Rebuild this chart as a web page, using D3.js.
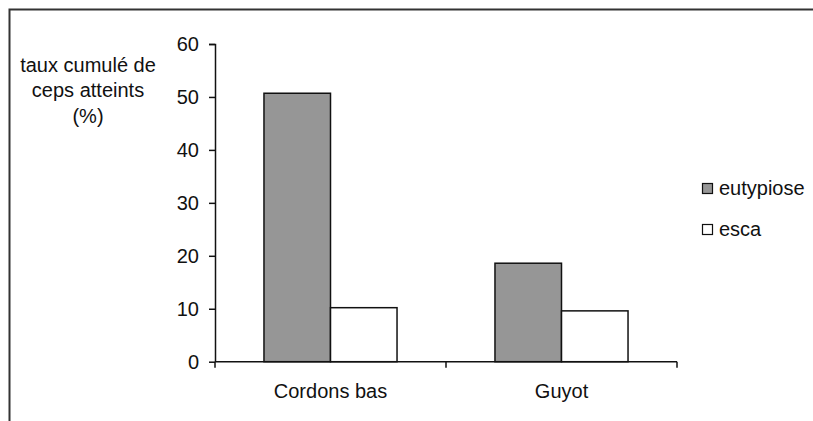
<!DOCTYPE html>
<html>
<head>
<meta charset="utf-8">
<script src="https://cdn.jsdelivr.net/npm/d3@7"></script>
<style>
  html, body { margin: 0; padding: 0; background: #fff; }
  svg { display: block; }
  text { font-family: "Liberation Sans", Arial, sans-serif; fill: #111; }
</style>
</head>
<body>
<svg id="chart" width="813" height="421"></svg>
<script>
const categories = ["Cordons bas", "Guyot"];
const seriesNames = ["eutypiose", "esca"];
const eutypiose = [50.7, 18.6];
const esca = [10.2, 9.6];
const yTicks = [0, 10, 20, 30, 40, 50, 60];
const yTitle = ["taux cumulé de", "ceps atteints", "(%)"];
const seriesColors = ["#969696", "#ffffff"];

const seriesValues = [eutypiose, esca];
const data = categories.map((c, i) => ({
  cat: c,
  values: seriesNames.map((s, j) => ({ key: s, value: seriesValues[j][i] }))
}));

const svg = d3.select("#chart");
const margin = { left: 215, top: 44 };
const plotW = 462, plotH = 317.7;

// outer border
svg.append("rect")
  .attr("x", 9.5).attr("y", 9.5)
  .attr("width", 815).attr("height", 430)
  .attr("fill", "none").attr("stroke", "#333").attr("stroke-width", 2);

const g = svg.append("g").attr("transform", `translate(${margin.left},${margin.top})`);

const y = d3.scaleLinear().domain([0, 60]).range([plotH, 0]);
const x0 = d3.scaleBand().domain(categories).range([0, plotW]).padding(0);
const bw = x0.bandwidth();
const x1 = d3.scaleBand().domain(seriesNames).range([bw * 0.212, bw * 0.788]).padding(0);
const color = d3.scaleOrdinal().domain(seriesNames).range(seriesColors);

// bars
const groups = g.selectAll("g.cat").data(data).join("g")
  .attr("class", "cat")
  .attr("transform", d => `translate(${x0(d.cat)},0)`);
groups.selectAll("rect").data(d => d.values).join("rect")
  .attr("x", d => x1(d.key))
  .attr("y", d => y(d.value))
  .attr("width", x1.bandwidth())
  .attr("height", d => y(0) - y(d.value))
  .attr("fill", d => color(d.key))
  .attr("stroke", "#111")
  .attr("stroke-width", 1.5);

// y axis
const yAxis = g.append("g")
  .call(d3.axisLeft(y).tickValues(yTicks).tickSize(6).tickPadding(10).tickFormat(d3.format("d")));
yAxis.select(".domain").attr("stroke", "#111").attr("stroke-width", 1.5).attr("d", `M-6,0.5H0.5V${plotH}`);
yAxis.selectAll(".tick line").attr("stroke", "#111").attr("stroke-width", 1.5);
yAxis.selectAll(".tick text").attr("font-size", 20).attr("fill", "#111")
  .attr("font-family", '"Liberation Sans", Arial, sans-serif');

// x axis: labels at centers, ticks at boundaries
const xAxis = g.append("g").attr("transform", `translate(0,${plotH})`)
  .call(d3.axisBottom(x0).tickSize(0).tickPadding(22));
xAxis.select(".domain").attr("stroke", "#111").attr("stroke-width", 1.5).attr("d", `M0,0H${plotW}`);
xAxis.selectAll(".tick text").attr("font-size", 20).attr("fill", "#111")
  .attr("font-family", '"Liberation Sans", Arial, sans-serif');
const bounds = categories.map(c => x0(c)).concat([x0(categories[categories.length - 1]) + bw]);
xAxis.selectAll("line.bt").data(bounds).join("line")
  .attr("class", "bt")
  .attr("x1", d => d).attr("x2", d => d)
  .attr("y1", 0).attr("y2", 6)
  .attr("stroke", "#111").attr("stroke-width", 1.5);

// y title
const titleY = [72, 97, 123];
svg.append("g").selectAll("text").data(yTitle).join("text")
  .attr("x", 88)
  .attr("y", (d, i) => titleY[i])
  .attr("text-anchor", "middle")
  .attr("font-size", 20)
  .text(d => d);

// legend
const legend = svg.append("g").attr("transform", "translate(702,183)");
const items = legend.selectAll("g").data(seriesNames).join("g")
  .attr("transform", (d, i) => `translate(0,${i * 41})`);
items.append("rect")
  .attr("x", 0.5).attr("y", 0.5)
  .attr("width", 10).attr("height", 10)
  .attr("fill", d => color(d))
  .attr("stroke", "#111").attr("stroke-width", 1.2);
items.append("text")
  .attr("x", 17).attr("y", 12)
  .attr("font-size", 20)
  .text(d => d);
</script>
</body>
</html>
